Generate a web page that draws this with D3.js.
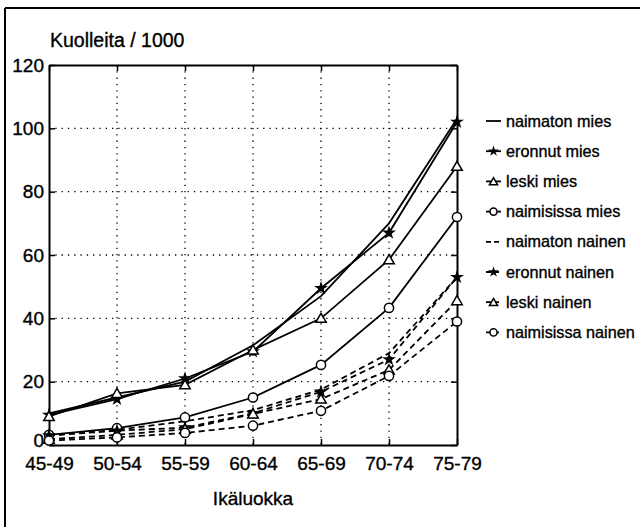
<!DOCTYPE html>
<html><head><meta charset="utf-8">
<script src="https://cdn.jsdelivr.net/npm/d3@7"></script>
<style>body{margin:0;background:#fff}svg{display:block;font-family:"Liberation Sans",Arial,sans-serif}
text{stroke:#000;stroke-width:0.35px}</style>
</head><body><svg id="c" width="640" height="527"></svg>
<script>
const categories = ["45-49","50-54","55-59","60-64","65-69","70-74","75-79"];
const yTicks = [0,20,40,60,80,100,120];
const naimatonMies    = [10, 15, 20, 31.5, 47, 70, 103];
const eronnutMies     = [9.5, 14.5, 21, 29.5, 49.5, 67, 102];
const leskiMies       = [9, 16.3, 19, 30, 40, 58.5, 88];
const naimisissaMies  = [3.2, 5.3, 8.7, 15, 25.3, 43.3, 72];
const naimatonNainen  = [3, 4.8, 7.5, 11, 17.5, 29, 53];
const eronnutNainen   = [3, 4.5, 5.5, 10, 16.8, 27, 53];
const leskiNainen     = [1.8, 3.2, 5, 9.8, 14.5, 23.7, 45.6];
const naimisissaNainen= [1.4, 2.4, 3.8, 6.1, 10.8, 21.8, 39];
const seriesNames = ["naimaton mies","eronnut mies","leski mies","naimisissa mies","naimaton nainen","eronnut nainen","leski nainen","naimisissa nainen"];

const series = [
  {name:seriesNames[0], v:naimatonMies, dash:null, m:null},
  {name:seriesNames[1], v:eronnutMies, dash:null, m:"star"},
  {name:seriesNames[2], v:leskiMies, dash:null, m:"tri"},
  {name:seriesNames[3], v:naimisissaMies, dash:null, m:"circ"},
  {name:seriesNames[4], v:naimatonNainen, dash:"6,4", m:null},
  {name:seriesNames[5], v:eronnutNainen, dash:"6,4", m:"star"},
  {name:seriesNames[6], v:leskiNainen, dash:"6,4", m:"tri"},
  {name:seriesNames[7], v:naimisissaNainen, dash:"6,4", m:"circ"}
];

const svg = d3.select("#c");
const L=49, R=457, T=65, B=445;
const x = d3.scalePoint().domain(categories).range([L,R]);
const y = d3.scaleLinear().domain([0,120]).range([B,T]);

// outer frame
svg.append("line").attr("x1",5).attr("x2",5).attr("y1",8).attr("y2",527).attr("stroke","#000").attr("stroke-width",2);
svg.append("line").attr("x1",5).attr("x2",640).attr("y1",8).attr("y2",8).attr("stroke","#000").attr("stroke-width",2);

// grid
const g = svg.append("g");
g.selectAll(".gx").data(categories.slice(1,-1)).join("line")
  .attr("x1",d=>x(d)).attr("x2",d=>x(d)).attr("y1",T).attr("y2",B)
  .attr("stroke","#000").attr("stroke-width",1.3).attr("stroke-dasharray","1.3,5");
g.selectAll(".gy").data(yTicks.slice(1,-1)).join("line")
  .attr("x1",L).attr("x2",R).attr("y1",d=>y(d)).attr("y2",d=>y(d))
  .attr("stroke","#000").attr("stroke-width",1.3).attr("stroke-dasharray","1.3,5");

// axes
const fs = "19px";
const ax = svg.append("g").attr("transform",`translate(0,${B})`)
  .call(d3.axisBottom(x).tickSizeInner(-6).tickSizeOuter(0).tickPadding(12));
const ay = svg.append("g").attr("transform",`translate(${L},0)`)
  .call(d3.axisLeft(y).tickValues(yTicks).tickSizeInner(-6).tickSizeOuter(0).tickPadding(5));
const axT = svg.append("g").attr("transform",`translate(0,${T})`)
  .call(d3.axisTop(x).tickSizeInner(-6).tickSizeOuter(0).tickFormat(""));
const ayR = svg.append("g").attr("transform",`translate(${R},0)`)
  .call(d3.axisRight(y).tickValues(yTicks).tickSizeInner(-6).tickSizeOuter(0).tickFormat(""));
[ax,ay,axT,ayR].forEach(a=>{
  a.selectAll("path").attr("stroke","#000").attr("stroke-width",2);
  a.selectAll("line").attr("stroke","#000").attr("stroke-width",1.5);
  a.selectAll("text").attr("font-size",fs).attr("fill","#000").attr("font-family","Liberation Sans, Arial, sans-serif");
});
ax.selectAll("text").attr("dy","0.71em");
ay.selectAll("text").filter(d=>d===0).attr("dy","0.1em");

// titles
svg.append("text").attr("x",50).attr("y",47).attr("font-size","19.5px").text("Kuolleita / 1000");
svg.append("text").attr("x",(L+R)/2).attr("y",505).attr("text-anchor","middle").attr("font-size","19px").text("Ikäluokka");

// lines
const line = d3.line().x((d,i)=>x(categories[i])).y(d=>y(d));
function marker(sel, m, cx, cy, k){
  k = k||1;
  if(m==="star") sel.append("path").attr("d",d3.symbol().type(d3.symbolStar).size(60*k)()).attr("transform",`translate(${cx},${cy})`).attr("fill","#000");
  else if(m==="tri") sel.append("path").attr("d",d3.symbol().type(d3.symbolTriangle).size(48*k)()).attr("transform",`translate(${cx},${cy+1})`).attr("fill","#fff").attr("stroke","#000").attr("stroke-width",1.5);
  else if(m==="circ") sel.append("circle").attr("cx",cx).attr("cy",cy).attr("r",4.6*Math.sqrt(k)).attr("fill","#fff").attr("stroke","#000").attr("stroke-width",1.5);
}
const lg = svg.append("g");
series.forEach(s=>{
  lg.append("path").attr("d",line(s.v)).attr("fill","none").attr("stroke","#000").attr("stroke-width",1.8)
    .attr("stroke-dasharray",s.dash);
});
series.forEach(s=>{
  if(!s.m) return;
  const mg = lg.append("g");
  s.v.forEach((v,i)=>marker(mg, s.m, x(categories[i]), y(v)));
});

// legend
const leg = svg.append("g");
series.forEach((s,i)=>{
  const ly = 121 + i*30.2;
  leg.append("line").attr("x1",486).attr("x2",501).attr("y1",ly).attr("y2",ly)
    .attr("stroke","#000").attr("stroke-width",1.8).attr("stroke-dasharray",s.dash? "5,3":null);
  if(s.m) marker(leg, s.m, 493.5, ly, 0.6);
  leg.append("text").attr("x",506).attr("y",ly).attr("dy","0.35em").attr("font-size","16.2px").text(s.name);
});
</script></body></html>
